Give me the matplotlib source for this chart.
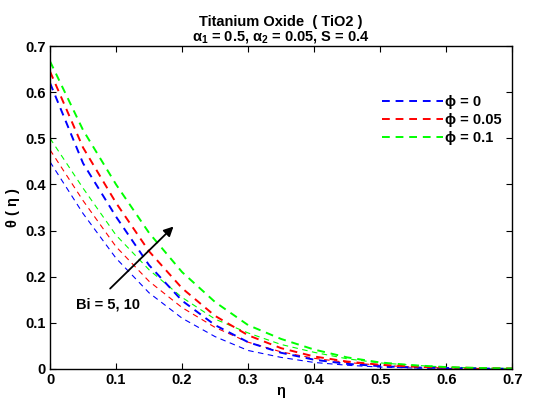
import matplotlib
matplotlib.use("Agg")
import matplotlib.pyplot as plt

plt.rcParams['font.family'] = ['Liberation Sans', 'DejaVu Sans']
plt.rcParams['font.weight'] = 'bold'
plt.rcParams['mathtext.fontset'] = 'custom'
plt.rcParams['mathtext.bf'] = 'Liberation Sans:bold'

eta = [0, 0.05, 0.1, 0.15, 0.2, 0.25, 0.3, 0.35, 0.4, 0.45, 0.5, 0.55, 0.6, 0.65, 0.7]

# Bi = 5 (thin lines)
blue_bi5 = [0.449, 0.337, 0.240, 0.165, 0.110, 0.070, 0.040, 0.025, 0.014, 0.008, 0.004, 0.002, 0.001, 0.0, 0.0]
red_bi5 = [0.475, 0.365, 0.265, 0.190, 0.133, 0.090, 0.058, 0.037, 0.023, 0.014, 0.008, 0.004, 0.002, 0.001, 0.0]
green_bi5 = [0.500, 0.392, 0.290, 0.215, 0.155, 0.108, 0.078, 0.053, 0.036, 0.022, 0.013, 0.008, 0.004, 0.002, 0.001]

# Bi = 10 (thicker lines)
blue_bi10 = [0.620, 0.446, 0.330, 0.225, 0.148, 0.095, 0.058, 0.035, 0.020, 0.011, 0.006, 0.003, 0.002, 0.001, 0.0]
red_bi10 = [0.645, 0.480, 0.360, 0.255, 0.175, 0.115, 0.073, 0.045, 0.027, 0.016, 0.009, 0.005, 0.003, 0.002, 0.001]
green_bi10 = [0.667, 0.518, 0.400, 0.295, 0.210, 0.145, 0.095, 0.065, 0.042, 0.025, 0.014, 0.008, 0.004, 0.002, 0.001]

labels = ['\u03d5 = 0', '\u03d5 = 0.05', '\u03d5 = 0.1']
colors = ['#0000ff', '#ff0000', '#00ff00']

fig = plt.figure(figsize=(5.38, 4.01), dpi=100)
ax = fig.add_axes([0.093, 0.08, 0.859, 0.805])

for ys, c in zip([blue_bi5, red_bi5, green_bi5], colors):
    ax.plot(eta, ys, '--', color=c, lw=0.8, dashes=(5, 4))
for ys, c, lab in zip([blue_bi10, red_bi10, green_bi10], colors, labels):
    ax.plot(eta, ys, '--', color=c, lw=1.4, dashes=(4, 3), label=lab)

ax.annotate('', xy=(0.19, 0.313), xytext=(0.088, 0.17),
            arrowprops=dict(arrowstyle='-|>', color='black', lw=1.3, mutation_scale=14))
ax.text(0.04, 0.14, 'Bi = 5, 10', fontsize=10.5, fontweight='bold', va='center')

ax.set_xlim(0, 0.7)
ax.set_ylim(0, 0.7)
ax.set_xticks([0, 0.1, 0.2, 0.3, 0.4, 0.5, 0.6, 0.7])
ax.set_yticks([0, 0.1, 0.2, 0.3, 0.4, 0.5, 0.6, 0.7])
ax.set_xticklabels(['0', '0.1', '0.2', '0.3', '0.4', '0.5', '0.6', '0.7'])
ax.set_yticklabels(['0', '0.1', '0.2', '0.3', '0.4', '0.5', '0.6', '0.7'])
ax.tick_params(direction='in', top=True, right=True, labelsize=10.5, length=4, pad=3)
for lbl in ax.get_xticklabels() + ax.get_yticklabels():
    lbl.set_fontweight('bold')
for s in ax.spines.values():
    s.set_linewidth(1.0)

ax.set_xlabel('\u03b7', fontsize=10.5, fontweight='bold', labelpad=-2)
ax.set_ylabel('\u03b8 ( \u03b7 )', fontsize=10.5, fontweight='bold', labelpad=4)
ax.set_title('Titanium Oxide  ( TiO2 )\n$\\mathbf{\\alpha_1}$ = 0.5, $\\mathbf{\\alpha_2}$ = 0.05, S = 0.4',
             fontsize=10.5, fontweight='bold', linespacing=1.0, pad=4)

leg = ax.legend(loc='upper right', bbox_to_anchor=(1.005, 0.89), frameon=False,
                fontsize=10.5, handlelength=4.2, handletextpad=0.1, labelspacing=0.3)
for t in leg.get_texts():
    t.set_fontweight('bold')

fig.savefig('out.png', dpi=100)
